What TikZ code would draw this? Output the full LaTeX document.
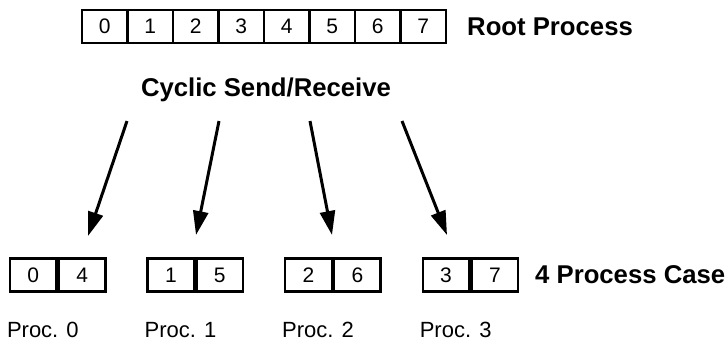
\documentclass[tikz,border=0pt]{standalone}
\usepackage{fontspec}
\setmainfont{Liberation Sans}
\usetikzlibrary{arrows.meta}
\begin{document}
\begin{tikzpicture}[x=1pt,y=-1pt,
  cell/.style={draw, line width=2.4pt, minimum width=45.5pt, minimum height=33pt,
    inner sep=0pt, font=\fontsize{21}{23}\selectfont},
  title/.style={font=\bfseries\fontsize{25.7}{28}\selectfont, inner sep=0pt},
  plabel/.style={font=\fontsize{22}{24}\selectfont, inner sep=0pt},
  flow/.style={line width=3pt, -{Triangle[length=24pt,width=15pt]}}]
\useasboundingbox (0,0) rectangle (728,349);

% root array, eight cells
\foreach \i in {0,...,7}
  \node[cell] (c\i) at ({104.75+45.5*\i},26.5) {\i};
\node[title, anchor=west] (root) at (467,27) {Root Process};
\node[title] (cyc) at (266,90) {Cyclic Send/Receive};

% per-process arrays, two cells each
\foreach \p/\a/\b [count=\k from 0] in {0/0/4, 1/1/5, 2/2/6, 3/3/7} {
  \node[cell, minimum width=46.5pt] (p\p a) at ({33.25+137.6*\k},275) {\a};
  \node[cell, minimum width=46.5pt, anchor=west] (p\p b) at (p\p a.east) {\b};
  \node[plabel, anchor=west] (lab\p) at ([xshift=-2pt]p\p a.west |- 0,330) {Proc. \p};
}
\node[title, anchor=west] (case) at (535,275) {4 Process Case};

% cyclic distribution arrows
\coordinate (s0) at (127,121); \coordinate (t0) at (88,236);
\coordinate (s1) at (219,121); \coordinate (t1) at (196,235);
\coordinate (s2) at (310,121); \coordinate (t2) at (332,235);
\coordinate (s3) at (402,121); \coordinate (t3) at (447,235);
\foreach \i in {0,...,3}
  \draw[flow] (s\i) -- (t\i);
\end{tikzpicture}
\end{document}
